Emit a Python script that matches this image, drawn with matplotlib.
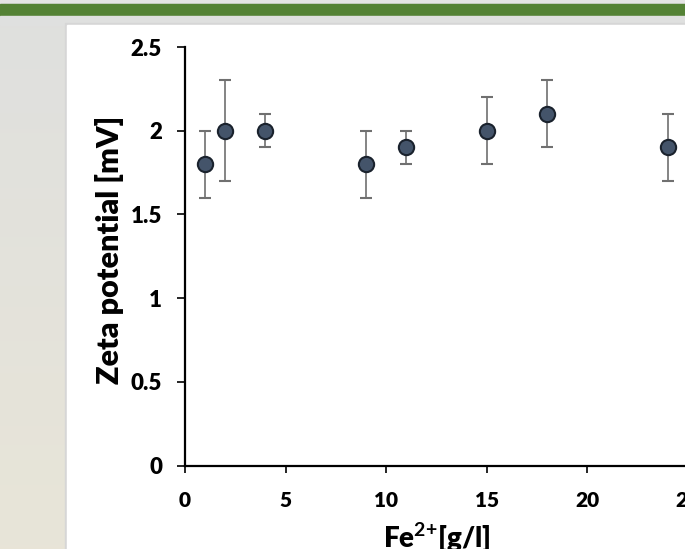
import numpy as np
import matplotlib
matplotlib.use("Agg")
import matplotlib.pyplot as plt
from matplotlib.patches import Rectangle

# Fe2+ concentration [g/l] and measured zeta potential [mV]
fe = [1, 2, 4, 9, 11, 15, 18, 24]
zeta = [1.8, 2.0, 2.0, 1.8, 1.9, 2.0, 2.1, 1.9]
zeta_err = [0.2, 0.3, 0.1, 0.2, 0.1, 0.2, 0.2, 0.2]

x_ticks = [0, 5, 10, 15, 20, 25]
y_ticks = [0, 0.5, 1, 1.5, 2, 2.5]
y_tick_labels = ["0", "0.5", "1", "1.5", "2", "2.5"]

W, H = 685, 549
plt.rcParams['font.family'] = ['Lato', 'DejaVu Sans']
plt.rcParams['mathtext.fontset'] = 'custom'
plt.rcParams['mathtext.bf'] = 'Lato:bold'
plt.rcParams['mathtext.rm'] = 'Lato:bold'
fig = plt.figure(figsize=(W / 100, H / 100), dpi=100)

# slide background
bg = fig.add_axes([0, 0, 1, 1], zorder=-10)
bg.set_xlim(0, W)
bg.set_ylim(H, 0)
bg.axis("off")
grad = np.linspace(0, 1, 256)[:, None]
top_c = np.array([0.875, 0.878, 0.871])
bot_c = np.array([0.910, 0.898, 0.847])
img = top_c + (bot_c - top_c) * grad[..., None]
bg.imshow(img, extent=[0, W, H, 16], aspect="auto", zorder=0)
bg.add_patch(Rectangle((0, 0), W, 4, color="#e4e4e4", zorder=1))
bg.add_patch(Rectangle((0, 3.5), W, 1, color="#c8c8c8", zorder=1))
bg.add_patch(Rectangle((0, 4), W, 12, color="#548235", zorder=1))
bg.add_patch(Rectangle((0, 16), W, 9, color="#dfe0df", zorder=1))
bg.add_patch(Rectangle((65, 23), W, H, color="#d6d6d6", zorder=2))
bg.add_patch(Rectangle((67, 25), W, H, color="white", zorder=3))

ax = fig.add_axes([185 / W, 1 - 465.7 / H, 503 / W, 418.7 / H])
ax.patch.set_alpha(0)
ax.errorbar(fe, zeta, yerr=zeta_err, fmt="o", color="#707070", ecolor="#707070",
            elinewidth=1.2, capsize=4, capthick=1.2,
            markersize=11, markerfacecolor="#44546a", markeredgecolor="#1a222d",
            markeredgewidth=1.5, zorder=3)

ax.set_xlim(0, 25)
ax.set_ylim(0, 2.5)
ax.set_xticks(x_ticks)
ax.set_xticklabels([str(t) for t in x_ticks])
ax.set_yticks(y_ticks)
ax.set_yticklabels(y_tick_labels)

for s in ["top", "right"]:
    ax.spines[s].set_visible(False)
for s in ["left", "bottom"]:
    ax.spines[s].set_linewidth(1.6)
    ax.spines[s].set_color("black")

ax.tick_params(axis="y", direction="out", length=5.5, width=1.2, pad=11, labelsize=16)
ax.tick_params(axis="x", direction="out", length=5, width=1.2, pad=13, labelsize=15)
for lab in ax.get_xticklabels() + ax.get_yticklabels():
    lab.set_fontweight("heavy")

ax.set_ylabel("Zeta potential [mV]", fontsize=22, fontweight="heavy")
ax.yaxis.set_label_coords(-0.122, 0.515)
ax.set_xlabel(r"Fe$^{\mathbf{2{+}}}$[g/l]", fontsize=20, fontweight="heavy")
ax.xaxis.set_label_coords(0.5, -0.13)

fig.savefig("out.png", dpi=100)
